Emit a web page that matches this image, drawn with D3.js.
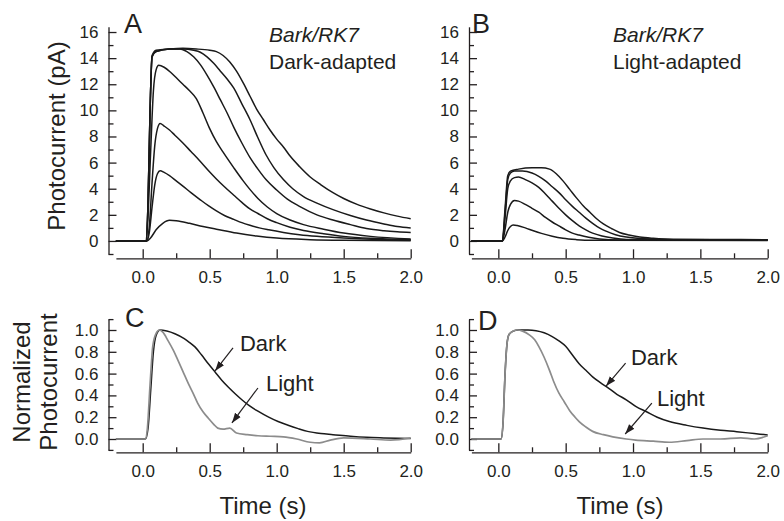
<!DOCTYPE html>
<html lang="en">
<head>
<meta charset="UTF-8">
<title>Bark/RK7 photocurrents</title>
<style>
    body { margin: 0; background: #fff; }
    text { font-family: "Liberation Sans", Arial, sans-serif; fill: #231f20; }
    .tick text { font-size: 17px; }
    .domain, .tick line { stroke: #231f20; stroke-width: 1.3; }
</style>
</head>
<body>
<div id="wrapper"></div>
<script src="https://d3js.org/d3.v7.min.js"></script>
<script>
// ---- data: [time (s), value] ----
// A: dark-adapted, photocurrent (pA)
const darkSat3 = [[-0.2,0],[0.025,0],[0.04,3],[0.055,10],[0.07,14.2],[0.1,14.6],[0.2,14.7],[0.3,14.75],[0.4,14.7],[0.5,14.6],[0.55,14.5],[0.6,14.2],[0.65,13.7],[0.7,13.0],[0.75,12.1],[0.8,11.1],[0.85,10.1],[0.9,9.3],[0.95,8.5],[1.0,7.8],[1.05,7.2],[1.1,6.5],[1.17,5.7],[1.25,4.9],[1.33,4.3],[1.42,3.7],[1.5,3.25],[1.6,2.8],[1.7,2.45],[1.8,2.15],[1.9,1.9],[2.0,1.7]];
const darkSat2 = [[-0.2,0],[0.025,0],[0.04,3],[0.055,10],[0.07,14.1],[0.1,14.5],[0.2,14.7],[0.3,14.7],[0.38,14.6],[0.43,14.45],[0.48,14.1],[0.53,13.6],[0.58,13.0],[0.63,12.4],[0.68,11.7],[0.74,10.5],[0.8,9.3],[0.86,7.9],[0.92,6.6],[0.98,5.6],[1.05,4.7],[1.12,4.0],[1.2,3.4],[1.3,2.9],[1.42,2.4],[1.55,1.95],[1.67,1.6],[1.8,1.3],[1.9,1.1],[2.0,1.0]];
const darkSat1 = [[-0.2,0],[0.025,0],[0.04,3],[0.055,10],[0.07,14.1],[0.1,14.5],[0.2,14.7],[0.28,14.7],[0.33,14.5],[0.38,14.1],[0.43,13.5],[0.48,12.7],[0.53,11.8],[0.58,10.8],[0.63,9.8],[0.68,8.7],[0.74,7.5],[0.8,6.4],[0.86,5.5],[0.92,4.7],[1.0,3.9],[1.08,3.2],[1.17,2.65],[1.3,2.0],[1.42,1.6],[1.55,1.25],[1.67,0.95],[1.8,0.78],[1.9,0.7],[2.0,0.65]];
const dark13 = [[-0.2,0],[0.025,0],[0.04,2],[0.06,7],[0.08,11.5],[0.1,13.1],[0.12,13.45],[0.16,13.3],[0.21,12.9],[0.26,12.4],[0.3,12.0],[0.35,11.5],[0.4,10.9],[0.45,9.8],[0.5,8.6],[0.55,7.6],[0.6,6.8],[0.68,5.6],[0.75,4.6],[0.8,3.95],[0.86,3.25],[0.93,2.6],[1.0,2.1],[1.1,1.6],[1.2,1.25],[1.35,0.9],[1.5,0.6],[1.7,0.35],[2.0,0.15]];
const dark9 = [[-0.2,0],[0.03,0],[0.05,1.2],[0.07,4.5],[0.09,7.3],[0.11,8.6],[0.13,9.0],[0.16,8.8],[0.2,8.5],[0.24,8.1],[0.3,7.5],[0.36,6.85],[0.42,6.2],[0.49,5.4],[0.55,4.75],[0.61,4.15],[0.68,3.5],[0.74,2.95],[0.8,2.45],[0.86,2.1],[0.93,1.7],[1.0,1.4],[1.1,1.05],[1.2,0.8],[1.35,0.55],[1.5,0.35],[1.7,0.2],[2.0,0.1]];
const dark5 = [[-0.2,0],[0.03,0],[0.05,0.7],[0.07,2.6],[0.09,4.3],[0.11,5.15],[0.13,5.38],[0.16,5.25],[0.2,5.0],[0.25,4.6],[0.3,4.2],[0.36,3.7],[0.43,3.15],[0.49,2.7],[0.55,2.3],[0.61,1.95],[0.68,1.65],[0.74,1.4],[0.8,1.2],[0.87,1.0],[0.94,0.85],[1.05,0.65],[1.17,0.48],[1.3,0.35],[1.5,0.22],[1.75,0.12],[2.0,0.08]];
const dark1 = [[-0.2,0],[0.03,0],[0.06,0.25],[0.1,0.85],[0.15,1.35],[0.2,1.58],[0.25,1.55],[0.35,1.35],[0.45,1.1],[0.55,0.9],[0.7,0.6],[0.85,0.38],[1.0,0.22],[1.25,0.1],[1.5,0.05],[2.0,0.02]];

// B: light-adapted, photocurrent (pA)
const light5 = [[-0.2,0],[0.03,0],[0.05,2.5],[0.07,5.0],[0.09,5.35],[0.15,5.5],[0.25,5.6],[0.32,5.6],[0.38,5.5],[0.43,5.15],[0.48,4.6],[0.53,3.95],[0.58,3.3],[0.63,2.7],[0.68,2.2],[0.73,1.7],[0.78,1.3],[0.84,0.95],[0.9,0.65],[0.97,0.45],[1.05,0.3],[1.15,0.2],[1.3,0.12],[1.6,0.1],[2.0,0.1]];
const light4 = [[-0.2,0],[0.03,0],[0.05,2.2],[0.07,4.7],[0.09,5.2],[0.12,5.35],[0.18,5.35],[0.25,5.2],[0.3,4.95],[0.35,4.6],[0.4,4.15],[0.45,3.7],[0.5,3.15],[0.55,2.65],[0.6,2.2],[0.65,1.75],[0.7,1.35],[0.75,1.0],[0.8,0.75],[0.87,0.48],[0.95,0.3],[1.05,0.18],[1.2,0.12],[2.0,0.1]];
const light3 = [[-0.2,0],[0.03,0],[0.05,1.8],[0.07,4.0],[0.09,4.6],[0.12,4.85],[0.15,4.9],[0.2,4.7],[0.25,4.45],[0.3,4.1],[0.35,3.6],[0.4,3.05],[0.45,2.5],[0.5,2.0],[0.55,1.55],[0.6,1.15],[0.65,0.85],[0.7,0.6],[0.77,0.38],[0.85,0.22],[0.95,0.12],[2.0,0.08]];
const light2 = [[-0.2,0],[0.03,0],[0.05,0.9],[0.07,2.2],[0.09,2.8],[0.12,3.1],[0.15,3.05],[0.2,2.8],[0.25,2.5],[0.3,2.2],[0.35,1.8],[0.4,1.45],[0.45,1.15],[0.5,0.85],[0.55,0.6],[0.6,0.45],[0.67,0.28],[0.75,0.15],[0.9,0.08],[2.0,0.05]];
const light1 = [[-0.2,0],[0.03,0],[0.05,0.3],[0.07,0.8],[0.09,1.1],[0.11,1.22],[0.14,1.18],[0.2,1.0],[0.26,0.78],[0.32,0.58],[0.4,0.36],[0.48,0.2],[0.58,0.1],[0.7,0.05],[2.0,0.03]];

// C: normalized, Bark/RK7 panel A vs B (dim flash)
const cDark = [[-0.2,0],[0.02,0],[0.04,0.1],[0.06,0.45],[0.08,0.8],[0.1,0.95],[0.13,1.0],[0.18,0.99],[0.24,0.965],[0.31,0.92],[0.35,0.885],[0.39,0.845],[0.44,0.77],[0.49,0.69],[0.54,0.615],[0.59,0.54],[0.64,0.475],[0.69,0.415],[0.74,0.36],[0.79,0.31],[0.86,0.255],[0.94,0.2],[1.01,0.16],[1.08,0.128],[1.16,0.095],[1.23,0.07],[1.33,0.05],[1.42,0.04],[1.55,0.025],[1.67,0.015],[1.8,0.01],[2.0,0.005]];
const cLight = [[-0.2,0],[0.02,0],[0.035,0.1],[0.055,0.5],[0.075,0.85],[0.1,0.97],[0.125,1.0],[0.15,0.98],[0.19,0.9],[0.23,0.81],[0.26,0.73],[0.3,0.62],[0.34,0.51],[0.38,0.41],[0.41,0.33],[0.45,0.25],[0.49,0.19],[0.53,0.135],[0.56,0.1],[0.6,0.09],[0.65,0.1],[0.7,0.055],[0.78,0.04],[0.86,0.03],[0.95,0.025],[1.05,0.02],[1.15,0.0],[1.25,-0.03],[1.32,-0.035],[1.4,-0.01],[1.5,0.01],[1.7,0.0],[1.85,-0.01],[2.0,0.01]];

// D: normalized, saturating flash
const dDark = [[-0.2,0],[0.02,0],[0.035,0.15],[0.05,0.6],[0.065,0.88],[0.08,0.96],[0.11,0.99],[0.15,1.0],[0.22,1.0],[0.28,0.994],[0.34,0.975],[0.4,0.94],[0.45,0.9],[0.5,0.85],[0.55,0.77],[0.6,0.69],[0.65,0.63],[0.7,0.57],[0.76,0.515],[0.82,0.465],[0.88,0.41],[0.95,0.36],[1.02,0.3],[1.1,0.25],[1.18,0.2],[1.27,0.16],[1.4,0.125],[1.52,0.1],[1.65,0.08],[1.77,0.067],[1.9,0.05],[2.0,0.037]];
const dLight = [[-0.2,0],[0.02,0],[0.035,0.15],[0.05,0.6],[0.065,0.88],[0.08,0.96],[0.11,0.99],[0.14,1.0],[0.18,0.99],[0.23,0.955],[0.27,0.91],[0.3,0.85],[0.34,0.75],[0.38,0.63],[0.41,0.53],[0.45,0.42],[0.49,0.34],[0.53,0.26],[0.57,0.2],[0.6,0.16],[0.65,0.11],[0.7,0.07],[0.78,0.04],[0.85,0.02],[0.95,0.0],[1.02,-0.01],[1.15,-0.02],[1.27,-0.03],[1.4,-0.015],[1.52,0.0],[1.65,0.0],[1.8,0.01],[1.9,0.0],[2.0,0.03]];

// ticks
const xMajor = [0, 0.5, 1.0, 1.5, 2.0];
const xMinor = [0.25, 0.75, 1.25, 1.75];
const pAMajor = [0, 2, 4, 6, 8, 10, 12, 14, 16];
const pAMinor = [-1, 1, 3, 5, 7, 9, 11, 13, 15];
const normMajor = [0, 0.2, 0.4, 0.6, 0.8, 1.0];
const normMinor = [-0.1, 0.1, 0.3, 0.5, 0.7, 0.9, 1.1];

// ---- layout ----
const width = 784, height = 521;
const svg = d3.select('#wrapper').append('svg')
    .attr('width', width)
    .attr('height', height);

svg.append('defs').append('marker')
    .attr('id', 'arrow')
    .attr('viewBox', '0 0 10 10')
    .attr('refX', 10).attr('refY', 5)
    .attr('markerWidth', 10).attr('markerHeight', 10)
    .attr('markerUnits', 'userSpaceOnUse')
    .attr('orient', 'auto')
    .append('path')
    .attr('d', 'M0,1.5 L10,5 L0,8.5 Z')
    .attr('fill', '#231f20');

// x scales: left column / right column
const xLeft = d3.scaleLinear().domain([-0.2, 2.0]).range([115.9, 410.7]);
const xRight = d3.scaleLinear().domain([-0.2, 2.0]).range([471.4, 767.7]);
// y scales: top row (pA) / bottom row (normalized)
const yTop = d3.scaleLinear().domain([-1, 16.4]).range([254, 26.8]);
const yBot = d3.scaleLinear().domain([-0.1, 1.1]).range([449.9, 319.1]);

function drawPanel(x, y, axisX, axisY, yMajor, yMinor, yFmt) {
    const g = svg.append('g');

    // x axis, ticks point up into the plot
    g.append('g')
        .attr('transform', `translate(0,${axisY})`)
        .call(d3.axisBottom(x).tickValues(xMajor).tickSizeInner(-9).tickSizeOuter(0)
            .tickPadding(13).tickFormat(d3.format('.1f')));
    g.append('g')
        .attr('transform', `translate(0,${axisY})`)
        .call(d3.axisBottom(x).tickValues(xMinor).tickSize(-5).tickFormat(''))
        .call(a => a.select('.domain').remove());

    // y axis, ticks point right
    g.append('g')
        .attr('transform', `translate(${axisX},0)`)
        .call(d3.axisLeft(y).tickValues(yMajor).tickSizeInner(-8).tickSizeOuter(0)
            .tickPadding(10).tickFormat(yFmt));
    g.append('g')
        .attr('transform', `translate(${axisX},0)`)
        .call(d3.axisLeft(y).tickValues(yMinor).tickSize(-5).tickFormat(''))
        .call(a => a.select('.domain').remove());

    g.selectAll('.tick text').attr('fill', '#231f20').style('font-family', '"Liberation Sans", Arial, sans-serif');
    return g;
}

function drawTraces(g, x, y, traces, color, w) {
    const line = d3.line()
        .x(d => x(d[0]))
        .y(d => y(d[1]))
        .curve(d3.curveMonotoneX);
    g.append('g').selectAll('path')
        .data(traces)
        .join('path')
        .attr('d', line)
        .attr('fill', 'none')
        .attr('stroke', color)
        .attr('stroke-width', w)
        .attr('stroke-linejoin', 'round');
}

function arrow(g, x, y, from, to) {
    g.append('line')
        .attr('x1', x(from[0])).attr('y1', y(from[1]))
        .attr('x2', x(to[0])).attr('y2', y(to[1]))
        .attr('stroke', '#231f20')
        .attr('stroke-width', 1.2)
        .attr('marker-end', 'url(#arrow)');
}

function label(g, x, y, t, v, txt, size, italic) {
    g.append('text')
        .attr('x', x(t)).attr('y', y(v))
        .style('font-size', size + 'px')
        .style('font-style', italic ? 'italic' : 'normal')
        .text(txt);
}

const fmtInt = d3.format('d');
const fmt1 = d3.format('.1f');

// Panel A
const gA = drawPanel(xLeft, yTop, 108.5, 258.3, pAMajor, pAMinor, fmtInt);
drawTraces(gA, xLeft, yTop, [dark1, dark5, dark9, dark13, darkSat1, darkSat2, darkSat3], '#1a1a1a', 1.5);
gA.append('text').attr('x', 124).attr('y', 33).style('font-size', '27px').text('A');
gA.append('text').attr('x', 269).attr('y', 42).style('font-size', '21px').style('font-style', 'italic').text('Bark/RK7');
gA.append('text').attr('x', 269).attr('y', 68.5).style('font-size', '21px').text('Dark-adapted');

// Panel B
const gB = drawPanel(xRight, yTop, 469, 258.3, pAMajor, pAMinor, fmtInt);
drawTraces(gB, xRight, yTop, [light1, light2, light3, light4, light5], '#1a1a1a', 1.5);
gB.append('text').attr('x', 472).attr('y', 33).style('font-size', '27px').text('B');
gB.append('text').attr('x', 613).attr('y', 42).style('font-size', '21px').style('font-style', 'italic').text('Bark/RK7');
gB.append('text').attr('x', 613).attr('y', 68.5).style('font-size', '21px').text('Light-adapted');

// Panel C
const gC = drawPanel(xLeft, yBot, 108.5, 452.3, normMajor, normMinor, fmt1);
drawTraces(gC, xLeft, yBot, [cDark], '#1a1a1a', 1.5);
drawTraces(gC, xLeft, yBot, [cLight], '#8c8c8c', 1.7);
gC.append('text').attr('x', 125).attr('y', 327).style('font-size', '27px').text('C');
label(gC, xLeft, yBot, 0.726, 0.81, 'Dark', 22);
label(gC, xLeft, yBot, 0.92, 0.443, 'Light', 22);
arrow(gC, xLeft, yBot, [0.674, 0.835], [0.54, 0.624]);
arrow(gC, xLeft, yBot, [0.86, 0.468], [0.666, 0.147]);

// Panel D
const gD = drawPanel(xRight, yBot, 469, 452.3, normMajor, normMinor, fmt1);
drawTraces(gD, xRight, yBot, [dDark], '#1a1a1a', 1.5);
drawTraces(gD, xRight, yBot, [dLight], '#8c8c8c', 1.7);
gD.append('text').attr('x', 478).attr('y', 330).style('font-size', '27px').text('D');
label(gD, xRight, yBot, 0.985, 0.679, 'Dark', 22);
label(gD, xRight, yBot, 1.178, 0.303, 'Light', 22);
arrow(gD, xRight, yBot, [0.945, 0.697], [0.80, 0.486]);
arrow(gD, xRight, yBot, [1.14, 0.33], [0.942, 0.046]);

// axis titles
svg.append('text')
    .attr('transform', 'translate(65,136) rotate(-90)')
    .attr('text-anchor', 'middle')
    .style('font-size', '24px')
    .text('Photocurrent (pA)');
svg.append('text')
    .attr('transform', 'translate(30,382) rotate(-90)')
    .attr('text-anchor', 'middle')
    .style('font-size', '24px')
    .text('Normalized');
svg.append('text')
    .attr('transform', 'translate(57,382) rotate(-90)')
    .attr('text-anchor', 'middle')
    .style('font-size', '24px')
    .text('Photocurrent');
svg.append('text')
    .attr('x', 263).attr('y', 514)
    .attr('text-anchor', 'middle')
    .style('font-size', '24px')
    .text('Time (s)');
svg.append('text')
    .attr('x', 620).attr('y', 514)
    .attr('text-anchor', 'middle')
    .style('font-size', '24px')
    .text('Time (s)');
</script>
</body>
</html>
